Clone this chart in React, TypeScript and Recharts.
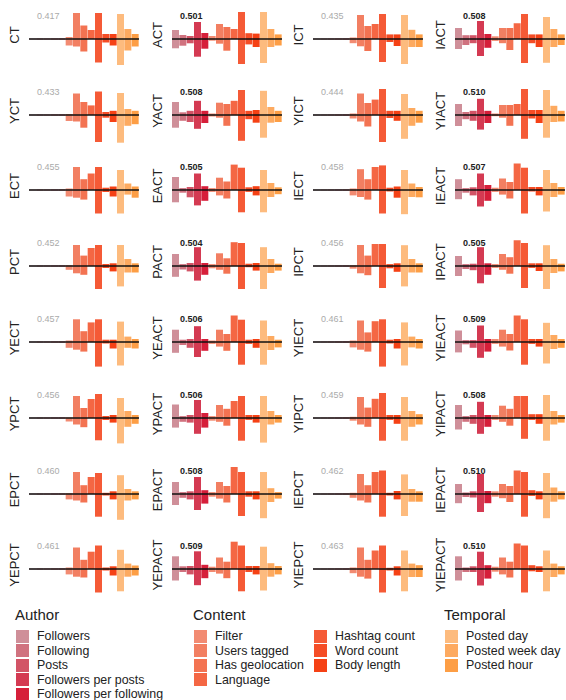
import React from "react";
import { BarChart, Bar, XAxis, YAxis, Cell, ReferenceLine } from "recharts";

const FEATURES = [
  "Followers", "Following", "Posts", "Followers per posts", "Followers per following",
  "Filter", "Users tagged", "Has geolocation", "Language", "Hashtag count", "Word count", "Body length",
  "Posted day", "Posted week day", "Posted hour",
];
const COLORS = [
  "#cf8f99", "#d0727f", "#d25466", "#d43a52", "#d61f3a",
  "#f28b72", "#f27f62", "#f37352", "#f46744", "#f55a36", "#f54d26", "#f54115",
  "#fdbb7e", "#fdaa60", "#fd9e45",
];
const AUTHOR_ITEMS = ["Followers", "Following", "Posts", "Followers per posts", "Followers per following"];
const CONTENT_ITEMS_A = ["Filter", "Users tagged", "Has geolocation", "Language"];
const CONTENT_ITEMS_B = ["Hashtag count", "Word count", "Body length"];
const TEMPORAL_ITEMS = ["Posted day", "Posted week day", "Posted hour"];

const NA_UP = [0.4, 0.4, 0.4, 0.4, 0.4];
const NA_DN = [-0.4, -0.4, -0.4, -0.4, -0.4];

// Column 1
const CT_UP = [...NA_UP, 2, 26, 13.5, 9, 26, 5, 5, 25, 10, 5];
const CT_DN = [...NA_DN, -6.5, -7.5, -12.5, 0, -23.5, -3.5, -6.5, -26, -11.5, -7.5];
const YCT_UP = [...NA_UP, 1, 21.5, 13, 9.6, 23.5, 3, 4.2, 22, 6, 4.2];
const YCT_DN = [...NA_DN, -6, -6.5, -12.7, 0, -27, -2.7, -7, -27.7, -10.8, -9.2];
const ECT_UP = [...NA_UP, 1.5, 23, 10.8, 16.5, 23, 2.3, 3.5, 20, 6.5, 3.5];
const ECT_DN = [...NA_DN, -6.5, -7.7, -9.6, 0, -23.5, -2, -6.5, -23.5, -4.6, -7.7];
const PCT_UP = [...NA_UP, 0.8, 21, 10.4, 18, 21, 2, 2.7, 21, 7, 2.7];
const PCT_DN = [...NA_DN, -3.8, -7.3, -8.8, 0, -23, -2, -5.4, -20.4, -6.5, -6.5];
const YECT_UP = [...NA_UP, 1.5, 22.7, 10.8, 19.6, 22.7, 2.3, 2.3, 20.4, 5.4, 3];
const YECT_DN = [...NA_DN, -5.8, -7.7, -9.6, 0, -24.6, -1.5, -6.5, -23.5, -5.8, -6.5];
const YPCT_UP = [...NA_UP, 0.5, 22, 10, 19, 24, 2, 3, 20, 7, 3];
const YPCT_DN = [...NA_DN, -3.5, -6.5, -9.2, 0, -22.3, -2, -4.6, -25.4, -8.8, -5.8];
const EPCT_UP = [...NA_UP, 0.8, 22, 8.8, 17, 21, 1.2, 2.7, 18.8, 5, 2.7];
const EPCT_DN = [...NA_DN, -5.4, -6.5, -8.5, 0, -22.7, -1.5, -5.4, -25.8, -6.5, -5.4];
const YEPCT_UP = [...NA_UP, 1.5, 21.5, 9.2, 17.3, 23.5, 1.5, 2.7, 19.2, 5.4, 3.5];
const YEPCT_DN = [...NA_DN, -5.4, -7.7, -8.5, 0, -23.5, -1.5, -6.5, -22.3, -7.7, -6.5];

// Column 2
const ACT_UP = [9, 4, 3, 17, 6, 3, 15, 12, 10, 27, 5.8, 5.4, 27, 10, 4.6];
const ACT_DN = [-9.3, -6.7, -4.3, -17.7, -9.7, -1.7, -4.7, -11.7, 0, -25, -5.4, -8, -24, -8, -6.5];
const YACT_UP = [13, 2.7, 4.2, 14.2, 4.2, 1.5, 12.3, 11, 14.2, 25, 4.2, 5, 24.2, 8, 4.2];
const YACT_DN = [-12.7, -5.8, -7, -13.8, -8, -1.5, -2.7, -10.8, 0, -25.8, -4.2, -7.7, -22.7, -7.7, -7];
const EACT_UP = [13, 1.9, 3, 16.5, 3.8, 1.9, 12.3, 8.5, 25.4, 22.3, 2.7, 3.8, 20, 7, 2.7];
const EACT_DN = [-12.3, -2.7, -7.3, -15.4, -10.8, -1.9, -5.4, -8.5, 0, -22.3, -1.9, -5.4, -22.3, -7, -4.2];
const PACT_UP = [12, 1.9, 3, 18.8, 3, 1.9, 12.7, 7.7, 23.8, 23, 2.3, 3, 18.8, 7, 2.3];
const PACT_DN = [-10.8, -3.5, -5.4, -14.6, -8.8, -2.3, -3.8, -7.7, 0, -23, -1.2, -4.6, -23, -7, -4.6];
const YEACT_UP = [12.3, 2.3, 3, 15.8, 3, 1.5, 12.3, 8, 26.5, 22.3, 2.3, 3, 21.5, 6, 2.3];
const YEACT_DN = [-10.8, -3, -5.8, -15, -8.8, -1.9, -4.6, -8.8, 0, -22.7, -1.9, -5.8, -22.7, -8, -5.4];
const YPACT_UP = [13.5, 1.9, 3, 18, 5, 1.9, 13, 9.2, 17, 22, 3, 3, 22, 7, 3];
const YPACT_DN = [-9.6, -3.8, -4.6, -15.8, -9.6, -2.7, -3.8, -7.7, 0, -22.7, -1.9, -4.6, -24.6, -6.5, -4.6];
const EPACT_UP = [12, 1.9, 2.7, 17, 3.8, 1.9, 12, 8, 27, 22, 2.7, 2.7, 22, 5.8, 1.9];
const EPACT_DN = [-11, -3.8, -5.4, -16, -9.6, -2.7, -4.6, -8.5, 0, -22, -2.7, -5.4, -24.2, -8, -4.6];
const YEPACT_UP = [12.7, 2.7, 3, 17.7, 4.2, 2.3, 11.5, 7.3, 27.3, 23.5, 3, 3, 22.3, 5.8, 3];
const YEPACT_DN = [-11.5, -3, -5.4, -16.2, -9.2, -3, -4.6, -9.2, 0, -22.3, -3, -5.4, -21.5, -7.7, -5.4];

// Column 3
const ICT_UP = [...NA_UP, 1.5, 24, 13, 15, 25, 4.6, 4.6, 24, 9.2, 4.6];
const ICT_DN = [...NA_DN, -4.2, -7.3, -12, 0, -23, -3, -7, -25, -8, -8];
const YICT_UP = [...NA_UP, 1.5, 21.5, 12, 15.4, 26, 4.2, 4.2, 21, 7, 4.2];
const YICT_DN = [...NA_DN, -3.5, -6.5, -11.5, 0, -27, -3, -5.8, -23.8, -10.8, -7.7];
const IECT_UP = [...NA_UP, 1.5, 20.8, 10.8, 23, 24.6, 2.3, 3.5, 20, 6.5, 3];
const IECT_DN = [...NA_DN, -5.4, -7, -9.6, 0, -23.5, -1.5, -7.7, -24.2, -7, -7.3];
const IPCT_UP = [...NA_UP, 0.8, 21, 10.4, 22, 22, 1.9, 2.7, 20.8, 7, 2.7];
const IPCT_DN = [...NA_DN, -2.7, -7.3, -9.2, 0, -22, -2.3, -5.8, -20.4, -6.5, -6.5];
const YIECT_UP = [...NA_UP, 1.5, 21.5, 9.6, 20.8, 22.7, 2.3, 3, 19.6, 5.4, 3];
const YIECT_DN = [...NA_DN, -5.4, -7.7, -9.6, 0, -24.6, -1.5, -6.5, -23.5, -5.4, -6.5];
const YIPCT_UP = [...NA_UP, 1.2, 21, 10.4, 19.2, 25, 3, 3, 21, 7, 3.8];
const YIPCT_DN = [...NA_DN, -2.7, -6.5, -8.8, 0, -22.7, -1.9, -5.8, -22.7, -8.8, -6.5];
const IEPCT_UP = [...NA_UP, 1.2, 20, 8.8, 22, 23.5, 1.2, 3, 19.6, 5, 2.7];
const IEPCT_DN = [...NA_DN, -3.8, -6.5, -8.5, 0, -22.7, -1.5, -5.4, -22, -7.7, -7.7];
const YIEPCT_UP = [...NA_UP, 1.5, 21.5, 9.2, 18.5, 23.5, 1.2, 2.7, 18.5, 5.4, 3.8];
const YIEPCT_DN = [...NA_DN, -4.2, -7.7, -9.6, 0, -23.5, -1.5, -6.5, -22.3, -8, -8];

// Column 4
const IACT_UP = [11, 3.8, 3.8, 18, 5, 2.7, 11, 11, 15.8, 25, 4.6, 4.6, 22, 10, 4.6];
const IACT_DN = [-10, -6, -4.2, -17, -8.8, -1.9, -4.2, -11, 0, -24, -4.2, -8, -23.8, -8, -6];
const YIACT_UP = [11, 3, 4.2, 16.2, 4.2, 1.5, 10, 10, 11, 26, 5, 5, 25, 9.2, 4.2];
const YIACT_DN = [-11, -4.2, -5.8, -14.6, -8, -1.2, -2.7, -10.8, 0, -23.8, -3.5, -8, -22.7, -7, -6.5];
const IEACT_UP = [10.8, 1.9, 2.7, 16.5, 5, 2.3, 11.5, 8, 26.5, 22.3, 3, 3, 20, 7, 3];
const IEACT_DN = [-9.2, -2.7, -5.4, -16.5, -10.8, -1.9, -4.6, -8.5, 0, -23.5, -1.5, -5.4, -21.5, -7, -4.6];
const IPACT_UP = [10, 1.9, 2.3, 18.8, 2.7, 1.9, 12, 8.8, 25.8, 23, 2.7, 2.7, 20.8, 7, 2.3];
const IPACT_DN = [-10, -3, -4.2, -17.3, -8.8, -1.9, -3.8, -7.7, 0, -22, -1.9, -5, -23, -7, -5.4];
const YIEACT_UP = [11.5, 1.9, 1.9, 16.5, 3, 3, 12.3, 8, 26.5, 22.7, 3, 3, 19.2, 7, 3];
const YIEACT_DN = [-10.4, -2.3, -5.8, -15.8, -9.6, -1.9, -4.6, -8.5, 0, -22.7, -1.9, -4.6, -21.5, -7, -5.8];
const YIPACT_UP = [13, 1.9, 3, 16.2, 3, 3, 12.3, 9.2, 22, 22, 3.8, 3.8, 23, 7, 3];
const YIPACT_DN = [-11.5, -3.8, -5.8, -15.8, -8.8, -1.9, -3.8, -7.7, 0, -20.8, -1.9, -5.8, -22.7, -6.5, -4.6];
const IEPACT_UP = [10, 1.5, 2.7, 20, 3, 2.7, 10, 8, 23.5, 22, 3.8, 2.7, 21, 6.5, 2.7];
const IEPACT_DN = [-9.2, -3, -3.5, -18, -9.2, -2.7, -4.2, -8, 0, -22.7, -1.9, -5.4, -24.2, -7.7, -5.4];
const YIEPACT_UP = [12.7, 1.5, 2.7, 17.3, 3.8, 2.3, 11.5, 7.3, 25.4, 23.5, 3.8, 2.7, 18.5, 5.4, 2.7];
const YIEPACT_DN = [-11.5, -3, -3, -16.5, -9.6, -2.7, -5.4, -8.5, 0, -23.5, -2.3, -3, -22.3, -8, -5.4];

const COL1_NAMES = ["CT", "YCT", "ECT", "PCT", "YECT", "YPCT", "EPCT", "YEPCT"];
const COL2_NAMES = ["ACT", "YACT", "EACT", "PACT", "YEACT", "YPACT", "EPACT", "YEPACT"];
const COL3_NAMES = ["ICT", "YICT", "IECT", "IPCT", "YIECT", "YIPCT", "IEPCT", "YIEPCT"];
const COL4_NAMES = ["IACT", "YIACT", "IEACT", "IPACT", "YIEACT", "YIPACT", "IEPACT", "YIEPACT"];

const COL1_SCORES = ["0.417", "0.433", "0.455", "0.452", "0.457", "0.456", "0.460", "0.461"];
const COL2_SCORES = ["0.501", "0.508", "0.505", "0.504", "0.506", "0.506", "0.508", "0.509"];
const COL3_SCORES = ["0.435", "0.444", "0.458", "0.456", "0.461", "0.459", "0.462", "0.463"];
const COL4_SCORES = ["0.508", "0.510", "0.507", "0.505", "0.509", "0.508", "0.510", "0.510"];

const COL1_UP = [CT_UP, YCT_UP, ECT_UP, PCT_UP, YECT_UP, YPCT_UP, EPCT_UP, YEPCT_UP];
const COL1_DN = [CT_DN, YCT_DN, ECT_DN, PCT_DN, YECT_DN, YPCT_DN, EPCT_DN, YEPCT_DN];
const COL2_UP = [ACT_UP, YACT_UP, EACT_UP, PACT_UP, YEACT_UP, YPACT_UP, EPACT_UP, YEPACT_UP];
const COL2_DN = [ACT_DN, YACT_DN, EACT_DN, PACT_DN, YEACT_DN, YPACT_DN, EPACT_DN, YEPACT_DN];
const COL3_UP = [ICT_UP, YICT_UP, IECT_UP, IPCT_UP, YIECT_UP, YIPCT_UP, IEPCT_UP, YIEPCT_UP];
const COL3_DN = [ICT_DN, YICT_DN, IECT_DN, IPCT_DN, YIECT_DN, YIPCT_DN, IEPCT_DN, YIEPCT_DN];
const COL4_UP = [IACT_UP, YIACT_UP, IEACT_UP, IPACT_UP, YIEACT_UP, YIPACT_UP, IEPACT_UP, YIEPACT_UP];
const COL4_DN = [IACT_DN, YIACT_DN, IEACT_DN, IPACT_DN, YIEACT_DN, YIPACT_DN, IEPACT_DN, YIEPACT_DN];

const COLUMNS = [
  { names: COL1_NAMES, scores: COL1_SCORES, up: COL1_UP, dn: COL1_DN, bold: false },
  { names: COL2_NAMES, scores: COL2_SCORES, up: COL2_UP, dn: COL2_DN, bold: true },
  { names: COL3_NAMES, scores: COL3_SCORES, up: COL3_UP, dn: COL3_DN, bold: false },
  { names: COL4_NAMES, scores: COL4_SCORES, up: COL4_UP, dn: COL4_DN, bold: true },
];

const PLOT_LEFT = [29, 172, 313, 455];
const ZERO_Y0 = 38.8;
const ROW_STEP = 75.8;
const PLOT_W = 110;
const HALF_H = 32;
const FONT = "'Liberation Sans', Arial, Helvetica, sans-serif";

function Panel({ name, score, up, dn, bold, left, zeroY }) {
  const data = FEATURES.map((f, i) => ({ feature: f, up: up[i], dn: dn[i] }));
  return (
    <>
      <div
        style={{
          position: "absolute",
          left: left - 14 - 40,
          top: zeroY - 4 - 8,
          width: 80,
          height: 16,
          lineHeight: "16px",
          textAlign: "center",
          fontSize: 13,
          color: "#222",
          fontFamily: FONT,
          transform: "rotate(-90deg)",
          whiteSpace: "nowrap",
        }}
      >
        {name}
      </div>
      <div
        style={{
          position: "absolute",
          left: left + 8,
          top: zeroY - 29,
          height: 12,
          lineHeight: "12px",
          fontSize: 9,
          fontWeight: bold ? "bold" : "normal",
          color: bold ? "#222" : "#aaa",
          fontFamily: FONT,
        }}
      >
        {score}
      </div>
      <div style={{ position: "absolute", left, top: zeroY - HALF_H }}>
        <BarChart
          width={PLOT_W}
          height={HALF_H * 2}
          data={data}
          margin={{ top: 0, right: 0, bottom: 0, left: 0 }}
          stackOffset="sign"
          barCategoryGap={0}
          barGap={0}
        >
          <XAxis dataKey="feature" hide />
          <YAxis hide domain={[-HALF_H, HALF_H]} allowDataOverflow />
          <Bar dataKey="up" stackId="s" isAnimationActive={false}>
            {data.map((d, i) => (
              <Cell key={i} fill={COLORS[i]} />
            ))}
          </Bar>
          <Bar dataKey="dn" stackId="s" isAnimationActive={false}>
            {data.map((d, i) => (
              <Cell key={i} fill={COLORS[i]} />
            ))}
          </Bar>
          <ReferenceLine y={0} stroke="#111" strokeWidth={1.5} />
        </BarChart>
      </div>
    </>
  );
}

function LegendBlock({ title, titleLeft, items, swatchLeft, textLeft }) {
  return (
    <>
      {title && (
        <div
          style={{
            position: "absolute",
            left: titleLeft,
            top: 606,
            height: 18,
            lineHeight: "18px",
            fontSize: 15,
            color: "#222",
            fontFamily: FONT,
          }}
        >
          {title}
        </div>
      )}
      {items.map((it, i) => {
        const cy = 636 + i * 14.5;
        return (
          <React.Fragment key={it}>
            <div
              style={{
                position: "absolute",
                left: swatchLeft,
                top: cy - 6.5,
                width: 13,
                height: 13,
                background: COLORS[FEATURES.indexOf(it)],
              }}
            />
            <div
              style={{
                position: "absolute",
                left: textLeft,
                top: cy - 8,
                height: 16,
                lineHeight: "16px",
                fontSize: 12.4,
                color: "#222",
                fontFamily: FONT,
                whiteSpace: "nowrap",
              }}
            >
              {it}
            </div>
          </React.Fragment>
        );
      })}
    </>
  );
}

export default function App() {
  return (
    <div style={{ position: "absolute", left: 0, top: 0, width: 566, height: 700, background: "#fff", overflow: "hidden" }}>
      {COLUMNS.map((col, c) =>
        col.names.map((name, r) => (
          <Panel
            key={name}
            name={name}
            score={col.scores[r]}
            up={col.up[r]}
            dn={col.dn[r]}
            bold={col.bold}
            left={PLOT_LEFT[c]}
            zeroY={ZERO_Y0 + r * ROW_STEP}
          />
        ))
      )}
      <LegendBlock title="Author" titleLeft={15} items={AUTHOR_ITEMS} swatchLeft={16} textLeft={37} />
      <LegendBlock title="Content" titleLeft={193} items={CONTENT_ITEMS_A} swatchLeft={194} textLeft={215} />
      <LegendBlock title="" titleLeft={0} items={CONTENT_ITEMS_B} swatchLeft={314} textLeft={335} />
      <LegendBlock title="Temporal" titleLeft={444} items={TEMPORAL_ITEMS} swatchLeft={445} textLeft={466} />
    </div>
  );
}
